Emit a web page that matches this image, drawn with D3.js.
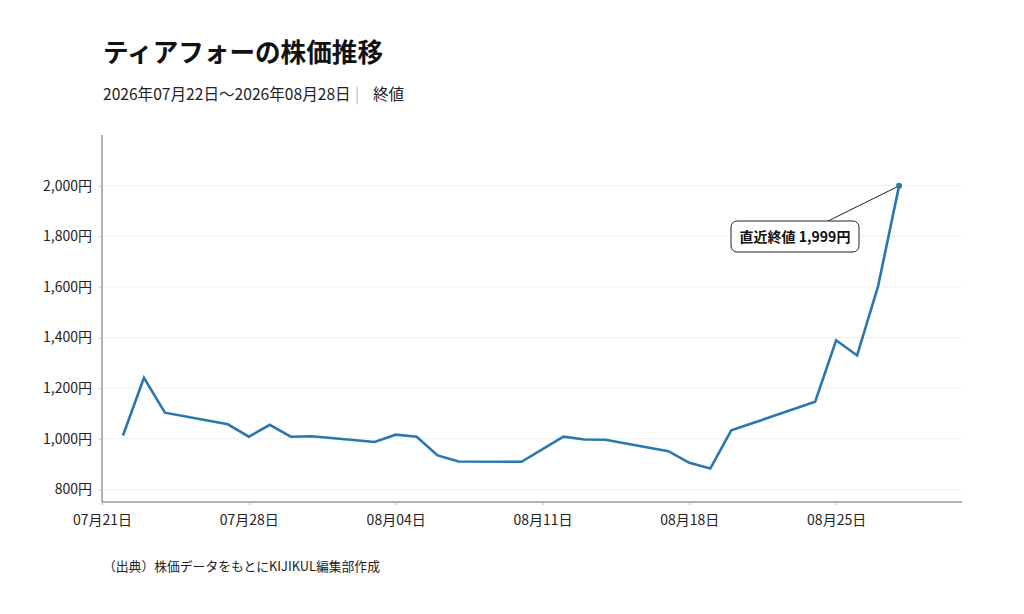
<!DOCTYPE html>
<html lang="ja">
<head>
    <meta charset="UTF-8">
    <title>ティアフォーの株価推移</title>
    <script src="https://d3js.org/d3.v7.min.js"></script>
    <style>
body { margin: 0; background: #fff; }
svg { font-family: "Noto Sans CJK JP", "Noto Sans", sans-serif; }
</style>
</head>
<body>
    <div id="container"></div>
    <script>
// data (終値)
const dates = ["2026-07-22","2026-07-23","2026-07-24","2026-07-27","2026-07-28","2026-07-29","2026-07-30","2026-07-31",
  "2026-08-03","2026-08-04","2026-08-05","2026-08-06","2026-08-07","2026-08-10","2026-08-12","2026-08-13","2026-08-14",
  "2026-08-17","2026-08-18","2026-08-19","2026-08-20","2026-08-21","2026-08-24","2026-08-25","2026-08-26","2026-08-27","2026-08-28"];
const closes = [1013, 1241, 1103, 1057, 1008, 1055, 1008, 1010,
  987, 1016, 1008, 934, 910, 909, 1008, 997, 996,
  951, 905, 882, 1033, 1061, 1146, 1389, 1329, 1603, 1999];
const yTicks = [800, 1000, 1200, 1400, 1600, 1800, 2000];
const xTicks = ["2026-07-21","2026-07-28","2026-08-04","2026-08-11","2026-08-18","2026-08-25"];

const parse = d3.timeParse("%Y-%m-%d");
const data = dates.map((d, i) => ({ date: parse(d), value: closes[i] }));

const width = 1024, height = 614;
const mLeft = 102, mRight = 962, mTop = 135, mBottom = 502;

const svg = d3.select("#container").append("svg")
  .attr("width", width).attr("height", height);

// title
svg.append("text").attr("x", 103).attr("y", 62)
  .attr("font-size", 25.6).attr("font-weight", 700).attr("fill", "#111")
  .text("ティアフォーの株価推移");
svg.append("text").attr("x", 103).attr("y", 100)
  .attr("font-size", 15.6).attr("fill", "#222")
  .text("2026年07月22日〜2026年08月28日");
svg.append("text").attr("x", 355).attr("y", 100)
  .attr("font-size", 15.6).attr("fill", "#bbb").text("|");
svg.append("text").attr("x", 373).attr("y", 100)
  .attr("font-size", 15.6).attr("fill", "#222").text("終値");

// scales
const x = d3.scaleTime().domain([parse("2026-07-21"), parse("2026-08-31")]).range([mLeft, mRight]);
const y = d3.scaleLinear().domain([750, 2200]).range([mBottom, mTop]);

// grid
svg.append("g").selectAll("line").data(yTicks).join("line")
  .attr("x1", mLeft).attr("x2", mRight)
  .attr("y1", d => y(d)).attr("y2", d => y(d))
  .attr("stroke", "#eee").attr("stroke-width", 1);

// y axis
const yAxis = svg.append("g").attr("transform", `translate(${mLeft},0)`)
  .call(d3.axisLeft(y).tickValues(yTicks).tickSize(3).tickPadding(7)
    .tickFormat(d => d3.format(",")(d) + "円"));
yAxis.select(".domain").attr("stroke", "#666").attr("d", `M0,${mTop}V${mBottom}`);
yAxis.selectAll(".tick line").attr("stroke", "#bbb");
yAxis.selectAll("text").attr("font-size", 14).attr("fill", "#222")
  .style("font-family", "'Noto Sans CJK JP', sans-serif");

// x axis
const xAxis = svg.append("g").attr("transform", `translate(0,${mBottom})`)
  .call(d3.axisBottom(x).tickValues(xTicks.map(parse)).tickSize(3).tickPadding(10)
    .tickFormat(d3.timeFormat("%m月%d日")));
xAxis.select(".domain").attr("stroke", "#666").attr("d", `M${mLeft},0H${mRight}`);
xAxis.selectAll(".tick line").attr("stroke", "#bbb");
xAxis.selectAll("text").attr("font-size", 14).attr("fill", "#222")
  .style("font-family", "'Noto Sans CJK JP', sans-serif");

// line
const line = d3.line().x(d => x(d.date)).y(d => y(d.value));
svg.append("path").datum(data)
  .attr("fill", "none").attr("stroke", "#2a77ad")
  .attr("stroke-width", 2.6).attr("stroke-linejoin", "miter")
  .attr("d", line);

// last point + annotation
const last = data[data.length - 1];
const lx = x(last.date), ly = y(last.value);
svg.append("line").attr("x1", lx).attr("y1", ly).attr("x2", 828).attr("y2", 221)
  .attr("stroke", "#222").attr("stroke-width", 1);
svg.append("circle").attr("cx", lx).attr("cy", ly).attr("r", 3).attr("fill", "#2a77ad");

const box = svg.append("g");
box.append("rect").attr("x", 731).attr("y", 221).attr("width", 128).attr("height", 31)
  .attr("rx", 6).attr("fill", "#fff").attr("stroke", "#222").attr("stroke-width", 1);
box.append("text").attr("x", 795).attr("y", 242).attr("text-anchor", "middle")
  .attr("font-size", 14).attr("font-weight", 700).attr("fill", "#111")
  .text("直近終値 " + d3.format(",")(last.value) + "円");

// source
svg.append("text").attr("x", 103).attr("y", 571)
  .attr("font-size", 12.8).attr("fill", "#222")
  .text("（出典）株価データをもとにKIJIKUL編集部作成");
</script>
</body>
</html>
